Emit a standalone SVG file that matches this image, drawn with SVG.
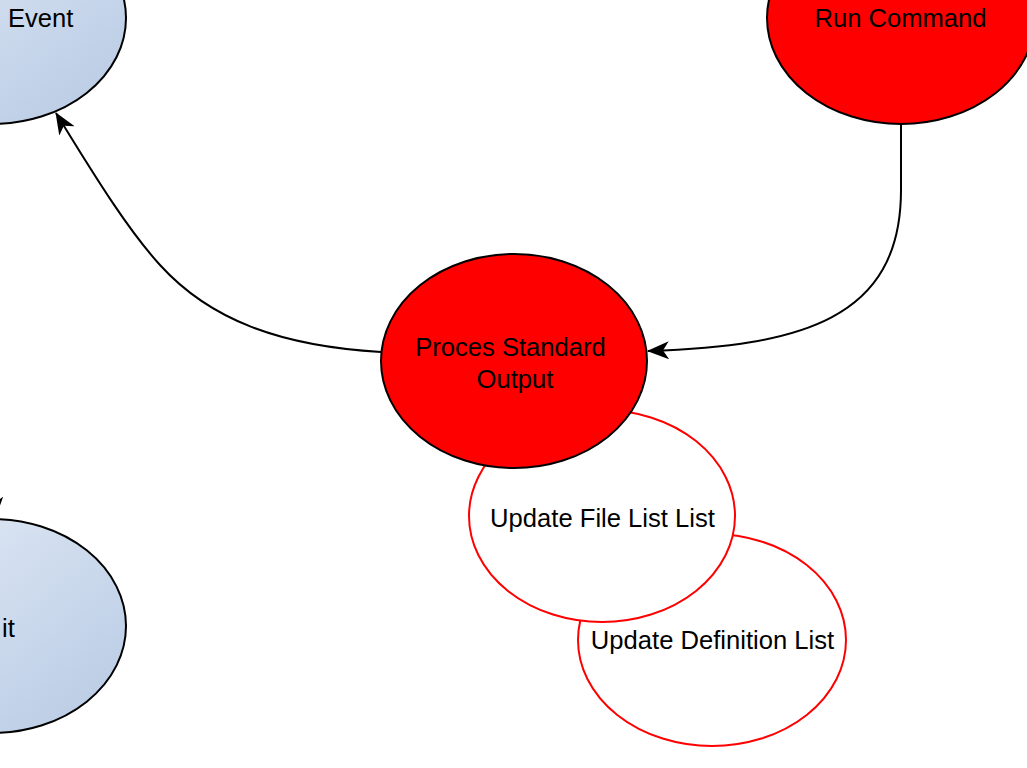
<svg xmlns="http://www.w3.org/2000/svg" width="1027" height="768" viewBox="0 0 1027 768">
<defs>
<linearGradient id="blue" x1="0" y1="0" x2="1" y2="1">
<stop offset="0" stop-color="#e4ecf7"/>
<stop offset="1" stop-color="#b6c9e3"/>
</linearGradient>
<marker id="arr" viewBox="0 0 22 18" refX="21" refY="9" markerWidth="22" markerHeight="18" markerUnits="userSpaceOnUse" orient="auto">
<path d="M0,0 L22,9 L0,18 L6,9 Z" fill="#000"/>
</marker>
<style>
.lbl{font-family:"Liberation Sans",Arial,sans-serif;font-size:25.6px;fill:#000;text-anchor:middle}
.blue{fill:url(#blue);stroke:#000;stroke-width:2}
.red{fill:#ff0000;stroke:#000;stroke-width:2}
.white{fill:#fff;stroke:#ff0000;stroke-width:2}
.edge{fill:none;stroke:#000;stroke-width:2}
</style>
</defs>
<rect width="1027" height="768" fill="#fff"/>
<g id="connectors">
<path class="edge" d="M381,352 C280,346 210,320 160,265 C130,232 100,185 56,113" marker-end="url(#arr)"/>
<path class="edge" d="M901,124 L901,190 C901,320 800,346 648,351" marker-end="url(#arr)"/>
<path class="edge" d="M-8,440 L-5,518" marker-end="url(#arr)"/>
</g>
<g id="node-event">
<ellipse class="blue" cx="-8" cy="18" rx="134" ry="106"/>
<text class="lbl" x="8" y="27" style="text-anchor:start">Event</text>
</g>
<g id="node-it">
<ellipse class="blue" cx="-8" cy="626" rx="134" ry="107"/>
<text class="lbl" x="2" y="637" style="text-anchor:start">it</text>
</g>
<g id="node-run-command">
<ellipse class="red" cx="901" cy="18" rx="134" ry="106"/>
<text class="lbl" x="900.5" y="27">Run Command</text>
</g>
<g id="node-update-definition">
<ellipse class="white" cx="712" cy="640" rx="134" ry="106"/>
<text class="lbl" x="712.5" y="649">Update Definition List</text>
</g>
<g id="node-update-file-list">
<ellipse class="white" cx="602" cy="516" rx="133" ry="106"/>
<text class="lbl" x="602.5" y="527">Update File List List</text>
</g>
<g id="node-proces">
<ellipse class="red" cx="514" cy="361" rx="133" ry="107"/>
<text class="lbl" x="510.5" y="356">Proces Standard</text>
<text class="lbl" x="515" y="388">Output</text>
</g>
</svg>
